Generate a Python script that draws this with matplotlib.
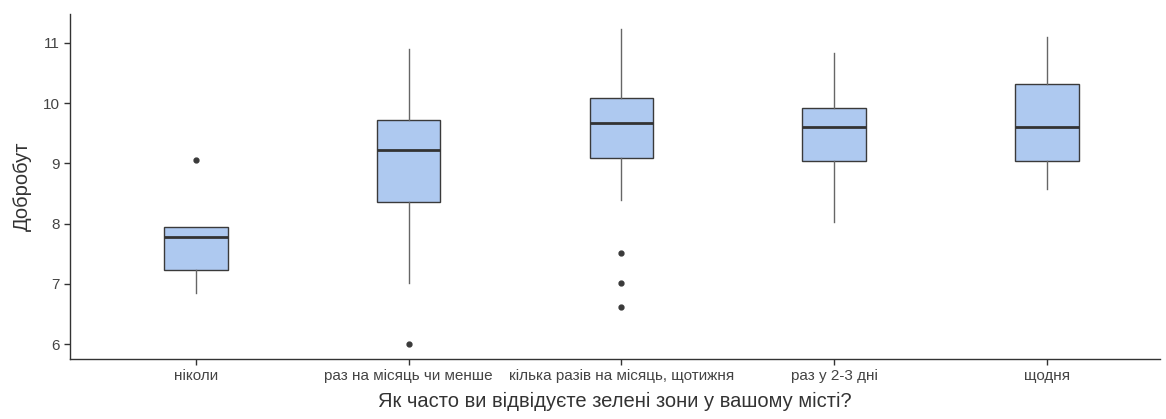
import matplotlib
matplotlib.use("Agg")
import matplotlib.pyplot as plt

plt.rcParams["font.family"] = ["Liberation Sans", "DejaVu Sans"]

categories = ["ніколи", "раз на місяць чи менше", "кілька разів на місяць, щотижня",
              "раз у 2-3 дні", "щодня"]
whislo = [6.85, 7.01, 8.39, 8.02, 8.57]
q1 = [7.23, 8.36, 9.09, 9.03, 9.03]
med = [7.78, 9.22, 9.67, 9.61, 9.61]
q3 = [7.94, 9.72, 10.08, 9.92, 10.32]
whishi = [7.94, 10.90, 11.22, 10.83, 11.10]
fliers = [[9.06], [6.0], [7.51, 7.01, 6.62], [], []]

stats = []
for i, name in enumerate(categories):
    stats.append({"label": name, "whislo": whislo[i], "q1": q1[i], "med": med[i],
                  "q3": q3[i], "whishi": whishi[i], "fliers": fliers[i]})

fig = plt.figure(figsize=(11.66, 4.19), dpi=100)
ax = fig.add_axes([0.060, 0.143, 0.935, 0.824])

ax.bxp(stats, positions=range(len(categories)), widths=0.30, patch_artist=True,
       showcaps=False,
       boxprops=dict(facecolor="#aec9f0", edgecolor="#3a3a3a", linewidth=1.0),
       medianprops=dict(color="#333333", linewidth=2.0),
       whiskerprops=dict(color="#666666", linewidth=1.0),
       flierprops=dict(marker="o", markersize=3.5, markerfacecolor="#3a3a3a",
                       markeredgecolor="#3a3a3a"))

ax.set_xlim(-0.59, 4.53)
ax.set_ylim(5.75, 11.48)
ax.set_yticks([6, 7, 8, 9, 10, 11])
ax.set_xticks(range(len(categories)))
ax.set_xticklabels(categories)

for s in ["top", "right"]:
    ax.spines[s].set_visible(False)
for s in ["left", "bottom"]:
    ax.spines[s].set_color("#333333")
    ax.spines[s].set_linewidth(1.0)

ax.tick_params(axis="both", colors="#333333", labelcolor="#444444", labelsize=11,
               length=4, width=1.0)
ax.set_xlabel("Як часто ви відвідуєте зелені зони у вашому місті?", fontsize=14.5,
              color="#333333", labelpad=6)
ax.set_ylabel("Добробут", fontsize=14.5, color="#333333", labelpad=8)

fig.savefig("out.png", dpi=100)
